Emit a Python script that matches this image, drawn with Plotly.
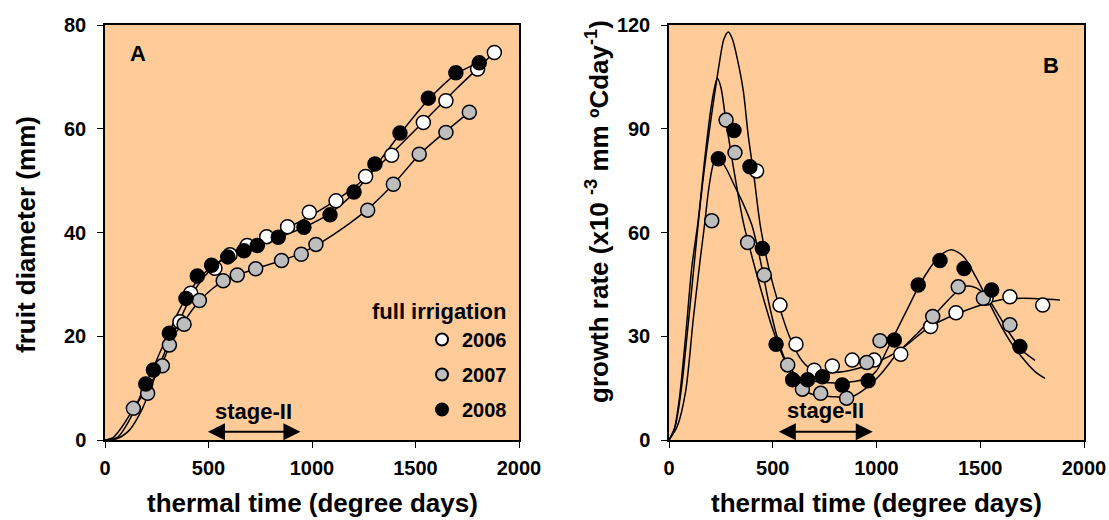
import plotly.graph_objects as go

# ---------------- Panel A: fruit diameter (mm) ----------------
a06_x = [362, 414, 531, 604, 687, 781, 882, 987, 1116, 1259, 1385, 1538, 1647, 1800, 1881]
a06_y = [22.8, 28.3, 33.1, 35.7, 37.5, 39.2, 41.1, 43.9, 46.1, 50.8, 54.9, 61.2, 65.4, 71.5, 74.7]
a07_x = [137, 206, 277, 311, 382, 456, 571, 639, 728, 853, 948, 1019, 1269, 1393, 1518, 1647, 1760]
a07_y = [6.1, 9.0, 14.3, 18.3, 22.3, 26.9, 30.7, 31.8, 33.0, 34.6, 35.8, 37.7, 44.3, 49.3, 55.1, 59.3, 63.2]
a08_x = [197, 234, 311, 391, 446, 515, 593, 671, 736, 837, 961, 1087, 1203, 1304, 1425, 1562, 1695, 1808]
a08_y = [10.8, 13.5, 20.6, 27.3, 31.6, 33.7, 35.3, 36.5, 37.5, 39.1, 41.0, 43.4, 47.8, 53.2, 59.2, 65.9, 70.8, 72.7]

# fitted curves
fa06_x = [0, 60, 120, 180, 240, 300, 360, 420, 480, 540, 600, 700, 800, 900, 1000, 1100, 1200, 1300, 1400, 1500, 1600, 1700, 1800, 1880]
fa06_y = [0, 0.3, 2, 6, 12, 18, 23, 28, 31.5, 34, 35.8, 38, 39.6, 41.3, 43.4, 45.8, 48.6, 52, 55.8, 59.8, 63.8, 67.8, 71.6, 74.7]
fa07_x = [0, 40, 90, 137, 180, 220, 260, 300, 340, 382, 420, 456, 520, 571, 639, 728, 853, 948, 1019, 1100, 1180, 1269, 1393, 1518, 1647, 1760]
fa07_y = [0, 0.5, 3, 6, 8.5, 11, 13.3, 17, 20.5, 22.8, 25, 26.8, 29.2, 30.6, 31.8, 33, 34.6, 36, 37.5, 39.5, 41.7, 44.5, 49.3, 55, 59.5, 63.2]
fa08_x = [0, 60, 120, 160, 197, 234, 270, 311, 350, 391, 446, 515, 593, 671, 736, 837, 961, 1087, 1203, 1304, 1425, 1562, 1695, 1808]
fa08_y = [0, 0.5, 4, 7.5, 10.8, 14, 17.3, 20.8, 24.3, 27.4, 30.7, 33.4, 35.2, 36.5, 37.5, 39, 41, 43.7, 47.6, 52.6, 59, 65.6, 70.5, 72.8]

# ---------------- Panel B: growth rate ----------------
b06_x = [422, 535, 612, 700, 787, 883, 989, 1117, 1261, 1383, 1528, 1643, 1801]
b06_y = [77.8, 39.0, 27.7, 20.2, 21.4, 23.1, 23.1, 24.8, 32.8, 36.8, 41.0, 41.4, 39.0]
b07_x = [206, 275, 318, 379, 459, 572, 643, 731, 856, 953, 1017, 1271, 1394, 1515, 1643]
b07_y = [63.4, 92.5, 83.1, 57.1, 47.7, 21.7, 14.7, 13.5, 12.1, 22.4, 28.7, 35.7, 44.3, 41.0, 33.3]
b08_x = [238, 313, 390, 450, 516, 596, 668, 739, 835, 960, 1086, 1201, 1306, 1422, 1555, 1691]
b08_y = [81.3, 89.5, 79.0, 55.4, 27.7, 17.4, 17.4, 18.3, 15.9, 17.1, 28.9, 44.8, 51.9, 49.6, 43.4, 27.0]

fb06_x = [0, 30, 60, 90, 120, 150, 180, 210, 240, 265, 286, 305, 330, 358, 382, 410, 440, 480, 527, 580, 640, 700, 800, 900, 1000, 1113, 1258, 1435, 1595, 1707, 1884]
fb06_y = [0, 4, 15, 32, 50, 68, 83, 96, 108, 116, 118, 116, 110, 101, 88, 76, 62, 50, 39.5, 30, 23, 20, 19.5, 20.5, 22.5, 26, 32.8, 37.6, 40.5, 41, 40.5]
fb07_x = [0, 25, 50, 80, 110, 141, 170, 200, 220, 233, 250, 275, 310, 358, 400, 450, 500, 550, 600, 650, 700, 800, 880, 950, 1020, 1100, 1200, 1300, 1380, 1435, 1480, 1530, 1580, 1640, 1700, 1764]
fb07_y = [0, 3, 12, 30, 50, 63.6, 80, 95, 102, 104.6, 102, 92, 79, 63, 53, 42, 32, 24, 18, 14.5, 13, 12.5, 12.5, 15, 19, 25, 31, 37.5, 42.5, 44.5, 44, 41.5, 37, 31, 26, 23]
fb08_x = [0, 40, 80, 117, 150, 173, 190, 210, 230, 250, 280, 320, 360, 400, 440, 480, 520, 570, 630, 700, 800, 900, 960, 1000, 1050, 1100, 1150, 1200, 1250, 1300, 1362, 1420, 1480, 1540, 1600, 1650, 1700, 1760, 1812]
fb08_y = [0, 4, 14, 35, 52, 63, 72, 79, 82, 81, 78, 73, 68, 62, 52, 40, 30, 22, 18, 17, 16.5, 17, 18, 20, 26, 32, 38, 44, 49, 53, 55, 53, 47, 40, 33, 28, 24, 20, 17.8]

years = ["2006", "2007", "2008"]
fills = ["white", "#BEBEBE", "black"]

stage_a = [490, 944]
stage_b = [522, 982]

FONT = "Arial, Liberation Sans, sans-serif"
BG = "#FFCC99"

fig = go.Figure()

curves_a = [(fa06_x, fa06_y), (fa07_x, fa07_y), (fa08_x, fa08_y)]
curves_b = [(fb06_x, fb06_y), (fb07_x, fb07_y), (fb08_x, fb08_y)]
pts_a = [(a06_x, a06_y), (a07_x, a07_y), (a08_x, a08_y)]
pts_b = [(b06_x, b06_y), (b07_x, b07_y), (b08_x, b08_y)]

for (cx, cy) in curves_a:
    fig.add_trace(go.Scatter(x=cx, y=cy, mode="lines", line=dict(color="black", width=1.5, shape="spline", smoothing=0.8),
                             showlegend=False, xaxis="x", yaxis="y", hoverinfo="skip"))
for (cx, cy) in curves_b:
    fig.add_trace(go.Scatter(x=cx, y=cy, mode="lines", line=dict(color="black", width=1.5, shape="spline", smoothing=0.8),
                             showlegend=False, xaxis="x2", yaxis="y2", hoverinfo="skip"))

for i, (px, py) in enumerate(pts_a):
    fig.add_trace(go.Scatter(x=px, y=py, mode="markers", name=years[i], legendgroup=years[i],
                             marker=dict(size=14, color=fills[i], line=dict(color="black", width=1.5)),
                             xaxis="x", yaxis="y"))
for i, (px, py) in enumerate(pts_b):
    fig.add_trace(go.Scatter(x=px, y=py, mode="markers", name=years[i], legendgroup=years[i], showlegend=False,
                             marker=dict(size=14, color=fills[i], line=dict(color="black", width=1.5)),
                             xaxis="x2", yaxis="y2"))

W, H = 1109, 520
dxA = [105 / W, 519 / W]
dxB = [669 / W, 1084 / W]
dy = [(H - 440) / H, (H - 25) / H]

axis_common = dict(showgrid=False, zeroline=False, showline=True, linecolor="black", linewidth=1.5, mirror=True,
                   ticks="outside", ticklen=6, tickwidth=1.2, tickcolor="black", automargin=False,
                   tickfont=dict(family=FONT, size=20, color="black", weight="bold"))

fig.update_layout(
    width=W, height=H, margin=dict(l=0, r=0, t=0, b=0, pad=0, autoexpand=False),
    paper_bgcolor="white", plot_bgcolor=BG,
    font=dict(family=FONT, color="black"),
    xaxis=dict(domain=dxA, range=[0, 2000], tickvals=[0, 500, 1000, 1500, 2000], anchor="y", ticklabelstandoff=3, **axis_common),
    yaxis=dict(domain=dy, range=[0, 80], tickvals=[0, 20, 40, 60, 80], anchor="x", ticklabelstandoff=7, **axis_common),
    xaxis2=dict(domain=dxB, range=[0, 2000], tickvals=[0, 500, 1000, 1500, 2000], anchor="y2", ticklabelstandoff=3, **axis_common),
    yaxis2=dict(domain=dy, range=[0, 120], tickvals=[0, 30, 60, 90, 120], anchor="x2", ticklabelstandoff=7, **axis_common),
    showlegend=True,
    legend=dict(x=(442 - 20) / W, y=(H - 320) / H, xanchor="left", yanchor="top",
                bgcolor="rgba(0,0,0,0)", traceorder="grouped", tracegroupgap=6, itemsizing="constant",
                font=dict(family=FONT, size=20, color="black", weight="bold")),
)

ann = []
# panel letters
ann.append(dict(x=138 / W, y=(H - 54) / H, xref="paper", yref="paper", text="A", showarrow=False,
                xanchor="center", yanchor="middle", font=dict(family=FONT, size=22, color="black", weight="bold")))
ann.append(dict(x=1051 / W, y=(H - 65) / H, xref="paper", yref="paper", text="B", showarrow=False,
                xanchor="center", yanchor="middle", font=dict(family=FONT, size=22, color="black", weight="bold")))
# legend title
ann.append(dict(x=370 / W, y=(H - 311.7) / H, xref="paper", yref="paper", text="full irrigation", showarrow=False,
                xanchor="left", yanchor="middle", font=dict(family=FONT, size=22, color="black", weight="bold")))
# axis titles
ann.append(dict(x=26 / W, y=(H - 235) / H, xref="paper", yref="paper", text="fruit diameter (mm)", showarrow=False,
                xanchor="center", yanchor="middle", textangle=-90,
                font=dict(family=FONT, size=26, color="black", weight="bold")))
ann.append(dict(x=597 / W, y=(H - 212) / H, xref="paper", yref="paper",
                text="growth rate (x10 <sup>-3</sup> mm \u00baCday<sup>-1</sup>)", showarrow=False,
                xanchor="center", yanchor="middle", textangle=-90,
                font=dict(family=FONT, size=26, color="black", weight="bold")))
ann.append(dict(x=312 / W, y=(H - 503) / H, xref="paper", yref="paper", text="thermal time (degree days)",
                xanchor="center", yanchor="middle", showarrow=False,
                font=dict(family=FONT, size=26, color="black", weight="bold")))
ann.append(dict(x=876 / W, y=(H - 503) / H, xref="paper", yref="paper", text="thermal time (degree days)",
                xanchor="center", yanchor="middle", showarrow=False,
                font=dict(family=FONT, size=26, color="black", weight="bold")))
# stage-II labels and arrows
ann.append(dict(x=sum(stage_a) / 2 - 2, y=(440 - 411.5) * 80 / 415, xref="x", yref="y", text="stage-II", showarrow=False,
                xanchor="center", yanchor="middle", font=dict(family=FONT, size=22, color="black", weight="bold")))
ann.append(dict(x=755, y=(440 - 410) * 120 / 415, xref="x2", yref="y2", text="stage-II", showarrow=False,
                xanchor="center", yanchor="middle", font=dict(family=FONT, size=22, color="black", weight="bold")))
ann.append(dict(x=stage_a[1], y=(440 - 431.7) * 80 / 415, ax=stage_a[0], ay=(440 - 431.7) * 80 / 415,
                xref="x", yref="y", axref="x", ayref="y", text="",
                showarrow=True, arrowhead=2, startarrowhead=2, arrowside="end+start", arrowsize=1.7,
                startarrowsize=1.7, arrowwidth=2, arrowcolor="black"))
ann.append(dict(x=stage_b[1], y=(440 - 431.7) * 120 / 415, ax=stage_b[0], ay=(440 - 431.7) * 120 / 415,
                xref="x2", yref="y2", axref="x2", ayref="y2", text="",
                showarrow=True, arrowhead=2, startarrowhead=2, arrowside="end+start", arrowsize=1.7,
                startarrowsize=1.7, arrowwidth=2, arrowcolor="black"))
fig.update_layout(annotations=ann)

fig.write_html("out.html")
